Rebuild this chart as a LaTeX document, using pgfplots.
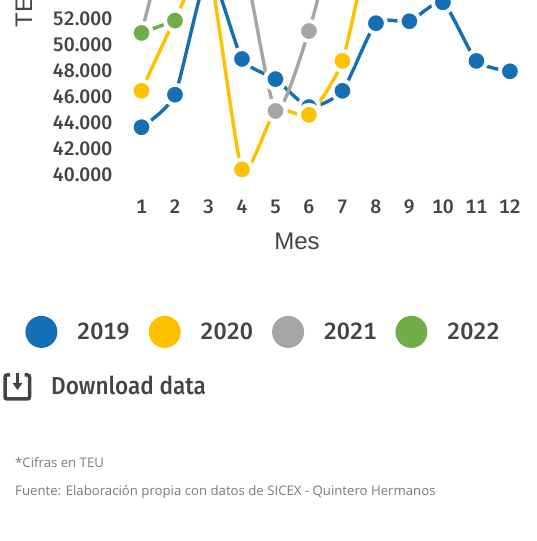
\documentclass[border=0pt]{standalone}
\usepackage{pgfplots}
\pgfplotsset{compat=1.18}
\usepackage{fontspec}
\setmainfont{Liberation Sans}
\newfontfamily\medf{Fira Sans}[UprightFont=* Medium, Numbers={Lining,Monospaced}]
\newfontfamily\notef{Open Sans}
\definecolor{c19}{HTML}{156FB5}
\definecolor{c20}{HTML}{FFC000}
\definecolor{c21}{HTML}{A5A5A5}
\definecolor{c22}{HTML}{70AD47}
\definecolor{txt}{HTML}{444444}
\definecolor{note}{HTML}{7A7A7A}

\pgfplotsset{
  serie/.style={
    color=#1, line width=3.4pt, smooth, tension=0.35,
    mark=*, mark size=10pt,
    mark options={fill=#1, draw=white, line width=4pt, solid},
    legend image code/.code={\fill[#1, draw=none] (16pt,0pt) circle (16pt); \path (48pt,0pt);},
  }
}

\begin{document}
\begin{tikzpicture}[x=1pt,y=1pt]
\useasboundingbox (0,0) rectangle (536,541);
\begin{axis}[
  at={(124.75pt,354pt)}, anchor=south west,
  scale only axis, width=401.9pt, height=187pt,
  xmin=0.5, xmax=12.5, ymin=39000, ymax=53385,
  axis line style={draw=none}, tick style={draw=none},
  xtick={1,...,12},
  ytick={40000,42000,...,52000},
  scaled y ticks=false,
  /pgf/number format/.cd, assume math mode=true, 1000 sep={.},
  /pgfplots/.cd,
  ticklabel style={font=\medf\fontsize{19.5}{22}\selectfont, text=txt},
  yticklabel style={xshift=-9pt, yshift=-0.7pt},
  xticklabel style={font=\medf\fontsize{19.5}{22}\selectfont, yshift=-9pt, text height=14pt, text depth=0pt},
  xlabel={Mes},
  xlabel style={at={(axis description cs:0.4286,-0.289)}, anchor=center,
    font=\fontsize{24}{28}\selectfont, text=txt},
  ylabel={TEU},
  ylabel style={at={(axis description cs:-0.2507,0.835)}, anchor=west, rotate=0,
    font=\fontsize{24}{28}\selectfont, text=txt},
  legend columns=4,
  legend style={at={(axis description cs:-0.2477,-0.775)}, anchor=west, draw=none, fill=none,
    inner sep=0pt, font=\medf\fontsize{23.5}{28}\selectfont, text=txt,
    /tikz/every even column/.style={column sep=17pt},
    cells={anchor=west}},
]
\addplot[serie=c19] coordinates {(1,43600) (2,46100) (3,55500) (4,48850) (5,47300) (6,45150) (7,46400) (8,51600) (9,51750) (10,53200) (11,48700) (12,47900)};
\addlegendentry{2019}
\addplot[serie=c20] coordinates {(1,46400) (2,51900) (3,55800) (4,40350) (5,44900) (6,44550) (7,48700) (8,59000) (9,53800) (10,56000) (11,56000) (12,55000)};
\addlegendentry{2020}
\addplot[serie=c21] coordinates {(1,50850) (2,60000) (3,60000) (4,57000) (5,44850) (6,51000) (7,60300) (8,62000) (9,61000) (10,63000) (11,62000) (12,61000)};
\addlegendentry{2021}
\addplot[serie=c22] coordinates {(1,50850) (2,51800)};
\addlegendentry{2022}
\end{axis}
% descarga
\draw[txt, line width=3.5pt, rounded corners=2pt] (10,541-375) -- (5,541-375) -- (5,541-399) -- (29.5,541-399) -- (29.5,541-375) -- (24.5,541-375);
\draw[txt, line width=2.8pt] (17.5,541-373) -- (17.5,541-384);
\fill[txt] (12.5,541-383) -- (22.5,541-383) -- (17.5,541-390) -- cycle;
\node[anchor=west, inner sep=0pt, text=txt] at (51,541-385) {\scalebox{0.92}[1]{\medf\fontsize{24.5}{28}\selectfont Download data}};
\node[anchor=west, inner sep=0pt, text=note] at (15,541-462.5) {\notef\fontsize{13.2}{16}\selectfont *Cifras en TEU};
\node[anchor=west, inner sep=0pt, text=note] at (15,541-492.5) {\notef\fontsize{13.2}{16}\selectfont Fuente: Elaboración propia con datos de SICEX - Quintero Hermanos};
\end{tikzpicture}
\end{document}
